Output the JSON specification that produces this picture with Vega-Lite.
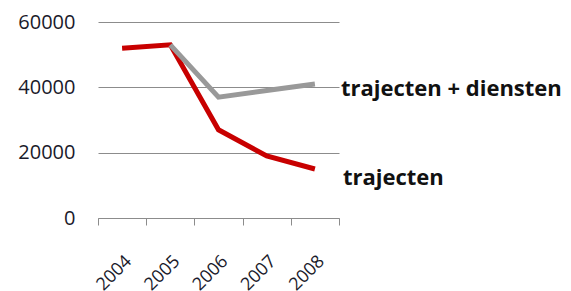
{
  "$schema": "https://vega.github.io/schema/vega-lite/v6.json",
  "autosize": {"type": "none"},
  "padding": {"left": 98, "top": 22, "right": 232, "bottom": 73},
  "width": 241,
  "height": 196,
  "background": "white",
  "config": {
    "view": {"stroke": null},
    "font": "Open Sans"
  },
  "data": {
    "values": [
      {"year": "2004", "series": "trajecten", "value": 52000},
      {"year": "2005", "series": "trajecten", "value": 53000},
      {"year": "2006", "series": "trajecten", "value": 27000},
      {"year": "2007", "series": "trajecten", "value": 19000},
      {"year": "2008", "series": "trajecten", "value": 15000},
      {"year": "2005", "series": "trajecten + diensten", "value": 53000},
      {"year": "2006", "series": "trajecten + diensten", "value": 37000},
      {"year": "2007", "series": "trajecten + diensten", "value": 39000},
      {"year": "2008", "series": "trajecten + diensten", "value": 41000}
    ]
  },
  "encoding": {
    "x": {
      "field": "year",
      "type": "ordinal",
      "scale": {"type": "band", "paddingInner": 0, "paddingOuter": 0},
      "axis": {
        "title": null,
        "tickBand": "extent",
        "labelAngle": -45,
        "labelFontSize": 18,
        "labelColor": "#1a1a2a",
        "labelPadding": 27,
        "tickSize": 7,
        "tickColor": "#8c8c8c",
        "domainColor": "#8c8c8c",
        "grid": false
      }
    },
    "y": {
      "field": "value",
      "type": "quantitative",
      "scale": {"domain": [0, 60000], "nice": false},
      "axis": {
        "title": null,
        "values": [0, 20000, 40000, 60000],
        "format": "d",
        "labelFontSize": 20,
        "labelColor": "#1a1a2a",
        "labelPadding": 23,
        "ticks": false,
        "domain": false,
        "grid": true,
        "gridColor": "#8c8c8c",
        "gridWidth": 1
      }
    }
  },
  "layer": [
    {
      "mark": {"type": "line", "strokeWidth": 5},
      "encoding": {
        "color": {
          "field": "series",
          "type": "nominal",
          "scale": {"domain": ["trajecten", "trajecten + diensten"], "range": ["#c80000", "#999999"]},
          "legend": null
        }
      }
    },
    {
      "transform": [{"filter": "datum.year == '2008' && datum.series == 'trajecten + diensten'"}],
      "mark": {"type": "text", "align": "left", "baseline": "middle", "dx": 26, "dy": 5, "fontSize": 22, "fontWeight": "bold", "color": "#111111"},
      "encoding": {"text": {"field": "series"}}
    },
    {
      "transform": [{"filter": "datum.year == '2008' && datum.series == 'trajecten'"}],
      "mark": {"type": "text", "align": "left", "baseline": "middle", "dx": 28, "dy": 9, "fontSize": 22, "fontWeight": "bold", "color": "#111111"},
      "encoding": {"text": {"field": "series"}}
    }
  ]
}
